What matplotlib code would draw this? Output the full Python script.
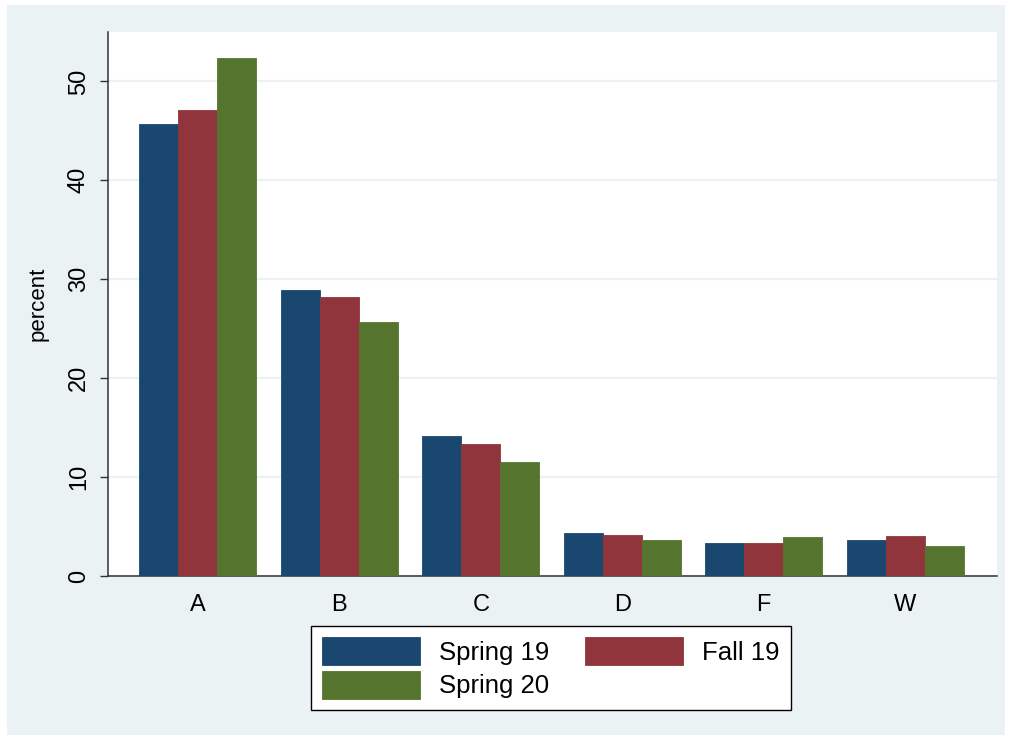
import numpy as np
import matplotlib.pyplot as plt
from matplotlib.patches import Rectangle

plt.rcParams['font.family'] = ['Liberation Sans', 'DejaVu Sans']

grades = ['A', 'B', 'C', 'D', 'F', 'W']
spring19 = [45.7, 28.9, 14.2, 4.3, 3.3, 3.6]
fall19 = [47.1, 28.2, 13.3, 4.1, 3.3, 4.0]
spring20 = [52.4, 25.7, 11.5, 3.6, 3.9, 3.0]
series_names = ['Spring 19', 'Fall 19', 'Spring 20']
colors = ['#1a476f', '#90353b', '#55752f']

bg = '#eaf2f3'

fig = plt.figure(figsize=(10.11, 7.4), dpi=100)
fig.patch.set_facecolor('white')
# stata-style outer panel
fig.patches.append(Rectangle((7 / 1011, 5 / 740), 998 / 1011, 730 / 740,
                             transform=fig.transFigure, facecolor=bg,
                             edgecolor='none', zorder=-10))

ax = fig.add_axes([108 / 1011, 1 - 576 / 740, 889 / 1011, 544 / 740])
ax.set_facecolor('white')

x = np.arange(len(grades))
w = 0.276
bars = []
for i, (vals, name, col) in enumerate(zip([spring19, fall19, spring20], series_names, colors)):
    b = ax.bar(x + (i - 1) * w, vals, width=w, color=col, label=name,
               edgecolor=col, linewidth=0.6, zorder=3)
    bars.append(b)

ax.set_xlim(-0.636, 5.65)
ax.set_ylim(0, 55)
ax.set_yticks([0, 10, 20, 30, 40, 50])
ax.set_xticks(x)
ax.set_xticklabels(grades, fontsize=17)
ax.yaxis.grid(True, color=bg, linewidth=1.6, zorder=0)
ax.tick_params(axis='y', labelsize=17, labelrotation=90, length=6, width=1, color='#333333', pad=7)
ax.tick_params(axis='x', length=0, pad=13)
for lab in ax.get_yticklabels():
    lab.set_va('center')

for s in ['top', 'right']:
    ax.spines[s].set_visible(False)
for s in ['left', 'bottom']:
    ax.spines[s].set_color('#333333')
    ax.spines[s].set_linewidth(1.1)

ax.set_ylabel('percent', fontsize=16, labelpad=14)

# row-major order like stata: Spring 19, Fall 19 / Spring 20
order = [0, 2, 1]
leg = fig.legend([bars[k] for k in order], [series_names[k] for k in order],
                 loc='center', bbox_to_anchor=(551 / 1011, 1 - 668 / 740), ncol=2,
                 fontsize=18.5, frameon=True, fancybox=False, framealpha=1,
                 handlelength=3.8, handleheight=1.3, handletextpad=0.75,
                 columnspacing=1.4, labelspacing=0.22, borderpad=0.45)
leg.get_frame().set_edgecolor('black')
leg.get_frame().set_linewidth(1.0)

fig.savefig('out.png', dpi=100, facecolor=fig.get_facecolor())
